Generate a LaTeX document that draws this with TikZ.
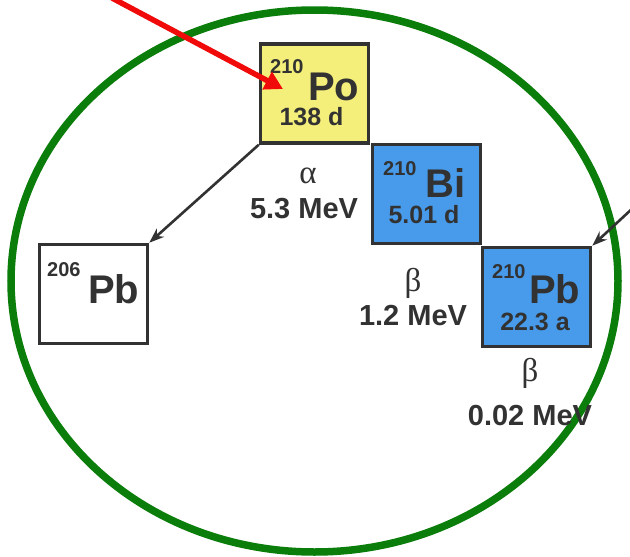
\documentclass[tikz,border=0pt]{standalone}
\usepackage{fontspec}
\setmainfont{Liberation Sans}
\newfontfamily\grk{Liberation Serif}
\usetikzlibrary{arrows.meta}
\definecolor{ink}{RGB}{50,50,50}
\definecolor{poyellow}{RGB}{244,238,122}
\definecolor{biblue}{RGB}{72,155,235}
\definecolor{ringgreen}{RGB}{10,125,10}
\definecolor{redarrow}{RGB}{240,10,10}
\newcommand{\fsz}[1]{\fontsize{#1}{#1}\selectfont}
\tikzset{
  isobox/.style={draw=ink, line width=3.5pt, minimum width=108pt, minimum height=99pt, inner sep=0pt},
  txt/.style={inner sep=0pt, text=ink, font=\bfseries},
  sup/.style={txt, anchor=base west, font=\bfseries\fsz{20}},
  elem/.style={txt, anchor=base west, font=\bfseries\fsz{40}},
  half/.style={txt, anchor=base, font=\bfseries\fsz{25}},
  greek/.style={inner sep=0pt, text=ink, anchor=base, font=\grk\fsz{33}},
  energy/.style={txt, anchor=base, font=\bfseries\fsz{29}},
  decay/.style={draw=ink, line width=2.6pt, -{Stealth[length=15pt, width=11pt]}},
}
\begin{document}
\begin{tikzpicture}[x=1pt, y=-1pt]
\useasboundingbox (0,0) rectangle (630,557);
\fill[white] (0,0) rectangle (630,557);
% ring
\draw[ringgreen, line width=7.5pt] (314.5,281) ellipse [x radius=303.5pt, y radius=271pt];
% boxes
\node[isobox, fill=poyellow] (po) at (314.5,93.5) {};
\node[isobox, fill=biblue] (bi) at (426.5,194) {};
\node[isobox, fill=biblue] (pb) at (536.5,297) {};
\node[isobox, fill=white] (pbs) at (93.5,294) {};
% Po
\node[sup] (posup) at (270,73) {210};
\node[elem] (poel) at (308,100) {Po};
\node[half] (pohl) at (311.5,125) {138 d};
% Bi
\node[sup] (bisup) at (383,175) {210};
\node[elem] (biel) at (425,197) {Bi};
\node[half] (bihl) at (424,223) {5.01 d};
% Pb210
\node[sup] (pbsup) at (492,278) {210};
\node[elem] (pbel) at (529,303) {Pb};
\node[half] (pbhl) at (535,330) {22.3 a};
% Pb206
\node[sup] (pbssup) at (47,276) {206};
\node[elem] (pbsel) at (88,303) {Pb};
% decay labels
\node[greek] (alpha) at (308,183) {α};
\node[energy] (ealpha) at (304,218) {5.3 MeV};
\node[greek] (beta1) at (413,291) {β};
\node[energy] (ebeta1) at (413,325) {1.2 MeV};
\node[greek] (beta2) at (530,381) {β};
\node[energy] (ebeta2) at (530,425) {0.02 MeV};
% arrows
\draw[decay] (po.south west) -- (pbs.north east);
\coordinate (gs) at (634,207);
\draw[decay] (gs) -- (pb.north east);
\coordinate (rs) at (112,-2);
\coordinate (rt) at (283,89);
\draw[redarrow, line width=5.5pt, -{Triangle[length=18pt, width=19pt]}] (rs) -- (rt);
\end{tikzpicture}
\end{document}
